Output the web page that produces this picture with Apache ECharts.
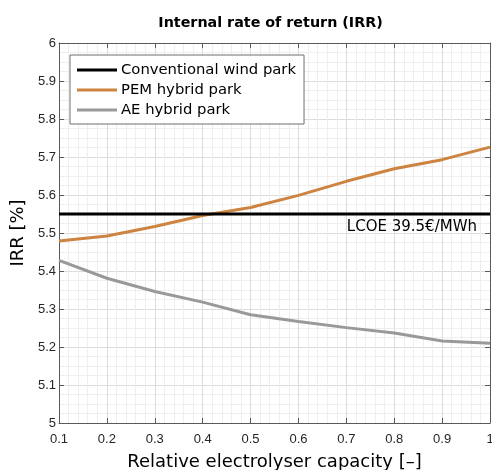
<!DOCTYPE html>
<html>
<head>
<meta charset="utf-8">
<script src="https://cdn.jsdelivr.net/npm/echarts@6/dist/echarts.min.js"></script>
<style>
  html, body { margin: 0; padding: 0; background: #fff; }
  #chart { width: 492px; height: 470px; }
</style>
</head>
<body>
<div id="chart"></div>
<script>
// Relative electrolyser capacity (x) and IRR in percent for each park type
const capacity = [0.1, 0.2, 0.3, 0.4, 0.5, 0.6, 0.7, 0.8, 0.9, 1.0];
const conventionalIRR = [5.55, 5.55, 5.55, 5.55, 5.55, 5.55, 5.55, 5.55, 5.55, 5.55];
const pemIRR = [5.479, 5.492, 5.517, 5.546, 5.567, 5.599, 5.636, 5.669, 5.693, 5.726];
const aeIRR = [5.428, 5.381, 5.346, 5.318, 5.285, 5.267, 5.251, 5.237, 5.216, 5.210];
const seriesNames = ['Conventional wind park', 'PEM hybrid park', 'AE hybrid park'];
const lcoeLabel = 'LCOE 39.5€/MWh';

const pairs = ys => capacity.map((x, i) => [x, ys[i]]);

const axisColor = '#5a5a5a';
const tickFont = { fontFamily: 'Liberation Sans', fontSize: 13, color: '#262626' };
const textFont = 'DejaVu Sans';

const chart = echarts.init(document.getElementById('chart'), null, { renderer: 'canvas' });

chart.setOption({
  animation: false,
  backgroundColor: '#fff',
  title: {
    text: 'Internal rate of return (IRR)',
    left: 265.5,
    top: 11,
    textAlign: 'center',
    textStyle: { fontFamily: textFont, fontWeight: 'bold', fontSize: 14.3, color: '#000' }
  },
  grid: { left: 59, right: 2, top: 43, bottom: 47, containLabel: false, outerBoundsMode: 'none' },
  legend: {
    orient: 'vertical',
    left: 70,
    top: 55,
    padding: [6, 8, 5, 7],
    itemGap: 2,
    itemWidth: 40,
    itemHeight: 3,
    icon: 'rect',
    backgroundColor: '#fff',
    borderColor: '#6e6e6e',
    borderWidth: 1,
    borderRadius: 0,
    textStyle: { fontFamily: textFont, fontSize: 14.8, color: '#000', lineHeight: 18, padding: [0, 0, 0, -1] },
    data: seriesNames
  },
  xAxis: [{
    type: 'value',
    min: 0.1,
    max: 1,
    interval: 0.1,
    name: 'Relative electrolyser capacity [–]',
    nameLocation: 'middle',
    nameGap: 30,
    nameTextStyle: { fontFamily: textFont, fontSize: 18, color: '#000' },
    axisLine: { onZero: false, lineStyle: { color: axisColor, width: 1 } },
    axisTick: { inside: true, length: 5, lineStyle: { color: axisColor } },
    axisLabel: Object.assign({ margin: 10, formatter: v => String(+v.toFixed(1)) }, tickFont),
    splitLine: { show: true, lineStyle: { color: '#dcdcdc', width: 1 } },
    minorTick: { show: false, splitNumber: 5 },
    minorSplitLine: { show: true, lineStyle: { color: '#eeeeee', width: 1 } }
  }, {
    type: 'value',
    position: 'top',
    min: 0.1,
    max: 1,
    interval: 0.1,
    axisLine: { onZero: false, lineStyle: { color: axisColor, width: 1 } },
    axisTick: { inside: true, length: 5, lineStyle: { color: axisColor } },
    axisLabel: { show: false },
    splitLine: { show: false }
  }],
  yAxis: [{
    type: 'value',
    min: 5,
    max: 6,
    interval: 0.1,
    name: 'IRR [%]',
    nameLocation: 'middle',
    nameGap: 32,
    nameTextStyle: { fontFamily: textFont, fontSize: 18, color: '#000' },
    axisLine: { show: true, onZero: false, lineStyle: { color: axisColor, width: 1 } },
    axisTick: { show: true, inside: true, length: 5, lineStyle: { color: axisColor } },
    axisLabel: Object.assign({ margin: 3, formatter: v => String(+v.toFixed(1)) }, tickFont),
    splitLine: { show: true, lineStyle: { color: '#dcdcdc', width: 1 } },
    minorTick: { show: false, splitNumber: 4 },
    minorSplitLine: { show: true, lineStyle: { color: '#eeeeee', width: 1 } }
  }, {
    type: 'value',
    position: 'right',
    min: 5,
    max: 6,
    interval: 0.1,
    axisLine: { show: true, onZero: false, lineStyle: { color: axisColor, width: 1 } },
    axisTick: { show: true, inside: true, length: 5, lineStyle: { color: axisColor } },
    axisLabel: { show: false },
    splitLine: { show: false }
  }],
  series: [{
    name: seriesNames[0],
    type: 'line',
    data: pairs(conventionalIRR),
    showSymbol: false,
    symbol: 'none',
    z: 3,
    color: '#000000',
    lineStyle: { color: '#000000', width: 3 },
    markPoint: {
      symbol: 'rect',
      symbolSize: 0,
      data: [{ coord: [capacity[capacity.length - 1], conventionalIRR[conventionalIRR.length - 1]] }],
      label: {
        show: true,
        formatter: lcoeLabel,
        position: 'inside',
        align: 'right',
        verticalAlign: 'middle',
        offset: [-13, 13],
        fontFamily: textFont,
        fontSize: 15,
        color: '#000'
      }
    }
  }, {
    name: seriesNames[1],
    type: 'line',
    data: pairs(pemIRR),
    showSymbol: false,
    symbol: 'none',
    z: 2,
    color: '#cc8440',
    lineStyle: { color: '#cc8440', width: 3 }
  }, {
    name: seriesNames[2],
    type: 'line',
    data: pairs(aeIRR),
    showSymbol: false,
    symbol: 'none',
    z: 2,
    color: '#999999',
    lineStyle: { color: '#999999', width: 3 }
  }]
});
</script>
</body>
</html>
